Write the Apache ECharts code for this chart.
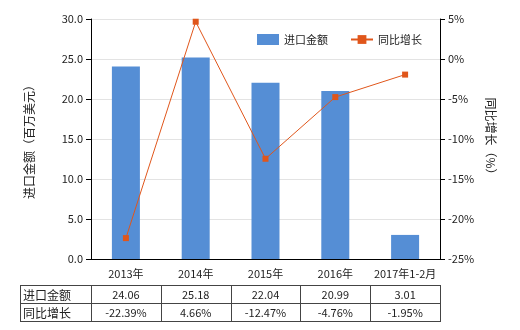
<!DOCTYPE html>
<html><head><meta charset="utf-8">
<script src="https://cdn.jsdelivr.net/npm/echarts@6/dist/echarts.min.js"></script>
<style>html,body{margin:0;padding:0;background:#fff}#c{width:520px;height:330px}</style>
</head><body><div id="c"></div>
<script>
const categories = ['2013年','2014年','2015年','2016年','2017年1-2月'];
const importValues = [24.06, 25.18, 22.04, 20.99, 3.01];
const growthValues = [-22.39, 4.66, -12.47, -4.76, -1.95];
const importLabels = ['24.06','25.18','22.04','20.99','3.01'];
const growthLabels = ['-22.39%','4.66%','-12.47%','-4.76%','-1.95%'];
const rowNames = ['进口金额','同比增长'];

const FONT = '"Noto Sans CJK SC", sans-serif';
const chart = echarts.init(document.getElementById('c'));
const option = {
  animation:false,
  textStyle:{fontFamily:FONT},
  grid:{left:91,right:80,top:19,bottom:71},
  legend:{
    top:29, left:252, itemGap:22, itemWidth:22, itemHeight:11,
    textStyle:{fontSize:11,color:'#222',fontFamily:FONT},
    data:[{name:'进口金额',icon:'rect'},{name:'同比增长'}]
  },
  xAxis:{type:'category',data:categories,
    axisLine:{lineStyle:{color:'#000'}},
    axisTick:{alignWithLabel:true,length:5,lineStyle:{color:'#000'}},
    axisLabel:{interval:0,color:'#222',fontSize:11,margin:9,fontFamily:FONT}},
  yAxis:[
    {type:'value',min:0,max:30,interval:5,
     name:'进口金额（百万美元）',nameLocation:'middle',nameGap:56,nameRotate:90,
     nameTextStyle:{fontSize:12,color:'#222',fontFamily:FONT},
     axisLine:{show:true,lineStyle:{color:'#000'}},
     axisTick:{show:true,length:5,lineStyle:{color:'#000'}},
     axisLabel:{formatter:v=>v.toFixed(1),color:'#222',fontSize:11,fontFamily:FONT},
     splitLine:{lineStyle:{color:'#e3e3e3'}}},
    {type:'value',min:-25,max:5,interval:5,
     name:'同比增长（%）',nameLocation:'middle',nameGap:44,nameRotate:-90,
     nameTextStyle:{fontSize:12,color:'#222',fontFamily:FONT},
     axisLine:{show:true,lineStyle:{color:'#000'}},
     axisTick:{show:true,length:5,lineStyle:{color:'#000'}},
     axisLabel:{formatter:v=>v+'%',color:'#222',fontSize:11,fontFamily:FONT},
     splitLine:{show:false}}
  ],
  series:[
    {name:'进口金额',type:'bar',data:importValues,barWidth:28,itemStyle:{color:'#558ed5'}},
    {name:'同比增长',type:'line',yAxisIndex:1,data:growthValues,symbol:'rect',symbolSize:6,
     itemStyle:{color:'#e0561b'},lineStyle:{color:'#e0561b',width:1}}
  ]
};
chart.setOption(option);

// Build the data table below the chart
const g = [];
const tableLeft = 20, y0 = 285, rowH = 18;
const centers = categories.map((c,i)=>chart.convertToPixel({xAxisIndex:0},i));
const step = centers[1]-centers[0];
const firstCol = centers[0]-step/2;
const tableRight = centers[centers.length-1]+step/2;
const lineStyle = {stroke:'#444',lineWidth:1};
for(let r=0;r<=2;r++){
  const y=y0+r*rowH+0.5;
  g.push({type:'line',shape:{x1:tableLeft,y1:y,x2:tableRight,y2:y},style:lineStyle,silent:true});
}
const xs=[tableLeft,firstCol].concat(centers.map(c=>c+step/2));
xs.forEach(x=>{
  const xx=Math.round(x)+0.5;
  g.push({type:'line',shape:{x1:xx,y1:y0,x2:xx,y2:y0+2*rowH+1},style:lineStyle,silent:true});
});
const rows=[importLabels,growthLabels];
rows.forEach((row,r)=>{
  const cy=y0+r*rowH+rowH/2+1;
  g.push({type:'text',x:tableLeft+3,y:cy,style:{text:rowNames[r],fill:'#222',font:'12px '+FONT,textVerticalAlign:'middle',verticalAlign:'middle'}});
  row.forEach((t,i)=>{
    g.push({type:'text',x:centers[i],y:cy,style:{text:t,fill:'#222',font:'11px '+FONT,textAlign:'center',align:'center',verticalAlign:'middle',textVerticalAlign:'middle'}});
  });
});
chart.setOption({graphic:g});
</script>
</body></html>
